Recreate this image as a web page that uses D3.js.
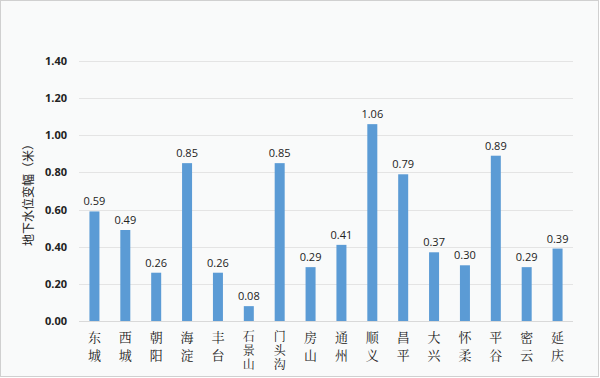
<!DOCTYPE html>
<html><head><meta charset="utf-8">
<script src="https://cdn.jsdelivr.net/npm/d3@7"></script>
<style>body{margin:0;background:#fff}svg{display:block}</style>
</head><body>
<svg id="c" width="600" height="378"></svg>
<script>
const categories = ["东城","西城","朝阳","海淀","丰台","石景山","门头沟","房山","通州","顺义","昌平","大兴","怀柔","平谷","密云","延庆"];
const values = [0.59,0.49,0.26,0.85,0.26,0.08,0.85,0.29,0.41,1.06,0.79,0.37,0.30,0.89,0.29,0.39];
const yTicks = [0,0.2,0.4,0.6,0.8,1.0,1.2,1.4];
const yTitle = "地下水位变幅（米）";

const svg = d3.select("#c");
svg.append("rect").attr("x",0.5).attr("y",0.5).attr("width",598).attr("height",376)
  .attr("fill","#f9fafa").attr("stroke","#d0d0d0");

const pL = 79, pR = 573, pT = 61, pB = 321;
const x = d3.scaleBand().domain(categories).range([pL, pR]).paddingInner(0.676).paddingOuter(0.338);
const y = d3.scaleLinear().domain([0,1.4]).range([pB, pT]);

const grid = svg.append("g");
grid.selectAll("line").data(yTicks).join("line")
  .attr("x1", pL).attr("x2", pR)
  .attr("y1", d=>Math.round(y(d))+0.5).attr("y2", d=>Math.round(y(d))+0.5)
  .attr("stroke", d=> d===0 ? "#d9d9d9" : "#e4e4e4").attr("stroke-width",1);

const yAxis = d3.axisLeft(y).tickValues(yTicks).tickFormat(d3.format(".2f")).tickSize(0).tickPadding(0);
const ga = svg.append("g").attr("transform",`translate(67,0)`).call(yAxis);
ga.select(".domain").remove();
ga.selectAll("text").attr("font-family","Open Sans, Liberation Sans, sans-serif").attr("font-weight","bold")
  .attr("font-size",11).attr("fill","#222");

svg.append("text").attr("transform","translate(33,192) rotate(-90)")
  .attr("text-anchor","middle").attr("font-family","Noto Sans CJK SC").attr("font-size",12).attr("fill","#222")
  .text(yTitle);

svg.append("g").selectAll("rect").data(values).join("rect")
  .attr("x",(d,i)=>x(categories[i])).attr("width",x.bandwidth())
  .attr("y",d=>y(d)).attr("height",d=>pB-y(d)).attr("fill","#5b9bd5");

svg.append("g").selectAll("text").data(values).join("text")
  .attr("x",(d,i)=>x(categories[i])+x.bandwidth()/2).attr("y",d=>y(d)-6)
  .attr("text-anchor","middle").attr("font-family","Open Sans, Liberation Sans, sans-serif")
  .attr("font-size",11).attr("fill","#222").text(d=>d.toFixed(2));

svg.append("g").selectAll("text").data(categories).join("text")
  .attr("x", c => x(c)+x.bandwidth()/2)
  .attr("y", c => [...c].length > 2 ? 330 : 331)
  .style("writing-mode","vertical-rl")
  .style("letter-spacing", c => [...c].length > 2 ? "2.4px" : "5px")
  .attr("text-anchor","start")
  .attr("font-family","Noto Serif CJK SC, Noto Sans CJK SC")
  .attr("font-size", c => [...c].length > 2 ? 12 : 13)
  .attr("fill","#222")
  .text(c => c);
</script>
</body></html>
